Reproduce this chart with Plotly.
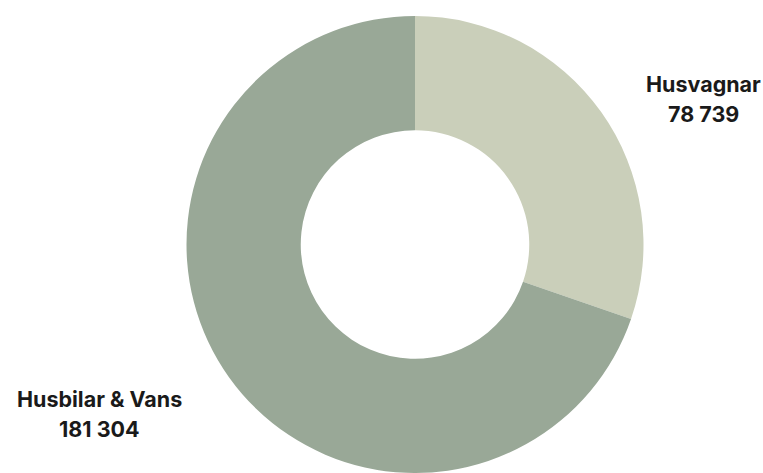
import plotly.graph_objects as go

labels = ["Husvagnar", "Husbilar & Vans"]
values = [78739, 181304]
colors = ["#CACFBA", "#99A897"]

W, H = 763, 473

def fmt(v):
    return f"{v:,}".replace(",", " ")

fig = go.Figure(go.Pie(
    labels=labels, values=values, hole=0.5, sort=False, direction="clockwise",
    rotation=0, marker=dict(colors=colors, line=dict(width=0)),
    textinfo="none", hoverinfo="label+value", showlegend=False,
    domain=dict(x=[(415 - 240) / W, (415 + 240) / W], y=[0, 1]),
))

label_pos = [(703, 70, 101), (99, 396, 427)]
font = dict(family="Inter, DejaVu Sans, sans-serif", size=21.5, color="#1a1a1a")
anns = []
for lab, val, (px, y1, y2) in zip(labels, values, label_pos):
    anns.append(dict(text=f"<b>{lab}</b>", x=px / W, y=1 - y1 / H, xref="paper", yref="paper",
                     xanchor="center", yanchor="middle", showarrow=False, font=font))
    anns.append(dict(text=f"<b>{fmt(val)}</b>", x=px / W, y=1 - y2 / H, xref="paper", yref="paper",
                     xanchor="center", yanchor="middle", showarrow=False, font=font))

fig.update_layout(
    width=W, height=H, margin=dict(l=0, r=0, t=16, b=0),
    paper_bgcolor="white", plot_bgcolor="white", annotations=anns,
)
fig.write_html("out.html")
